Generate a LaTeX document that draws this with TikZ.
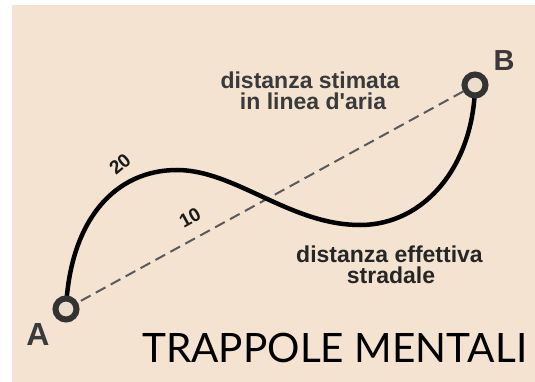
\documentclass[tikz,border=0pt]{standalone}
\usepackage{fontspec}
\setmainfont{Liberation Sans}
\newfontfamily\latofont{Lato}
\definecolor{bgbeige}{HTML}{F4E3D0}
\definecolor{dotfill}{HTML}{EDDDCB}
\definecolor{inkdark}{HTML}{333333}
\definecolor{inklabel}{HTML}{3A3A3A}
\definecolor{dashgray}{HTML}{5A5A5A}
\tikzset{
  circ/.style={circle, draw=inkdark, fill=dotfill, line width=6pt, minimum size=21pt, inner sep=0pt},
  road/.style={line width=4.5pt, black},
  air/.style={line width=2pt, dashgray, dash pattern=on 11pt off 6pt},
  lbl/.style={font=\fontsize{23}{23}\selectfont\bfseries, text=inklabel, anchor=base, inner sep=0pt},
  num/.style={font=\fontsize{19}{19}\selectfont\bfseries, text=black!90, inner sep=0pt},
  pt/.style={font=\fontsize{#1}{#1}\selectfont\bfseries, text=inklabel, anchor=base, inner sep=0pt},
  ttl/.style={font=\fontsize{40.5}{40.5}\selectfont\latofont, text=black, anchor=base west, inner sep=0pt}
}
\begin{document}
\begin{tikzpicture}[x=1pt, y=-1pt]
\useasboundingbox (0,0) rectangle (535,382);
\fill[white] (0,0) rectangle (535,382);
\fill[bgbeige] (12,5) rectangle (535,382);
\coordinate (pA) at (66,309);
\coordinate (pB) at (475,85);
\draw[air] (pA) -- (pB);
\draw[road] (pA) .. controls (70,220) and (115,170) .. (177,170)
  .. controls (235,170) and (290,225) .. (360,225)
  .. controls (425,225) and (474,165) .. (pB);
\node[circ] (A) at (pA) {};
\node[circ] (B) at (pB) {};
\node[pt=32] (labA) at (38,345) {A};
\node[pt=29] (labB) at (504,71) {B};
\node[num, rotate=40] (n20) at (120,164) {20};
\node[num, rotate=29] (n10) at (190,218) {10};
\node[lbl] (t1) at (310,89) {distanza stimata};
\node[lbl] (t2) at (313,110) {in linea d\textquotesingle aria};
\node[lbl, text=black!85] (t3) at (389.5,262) {distanza effettiva};
\node[lbl, text=black!85] (t4) at (391,283) {stradale};
\node[ttl] (title) at (142,362) {TRAPPOLE MENTALI};
\end{tikzpicture}
\end{document}
